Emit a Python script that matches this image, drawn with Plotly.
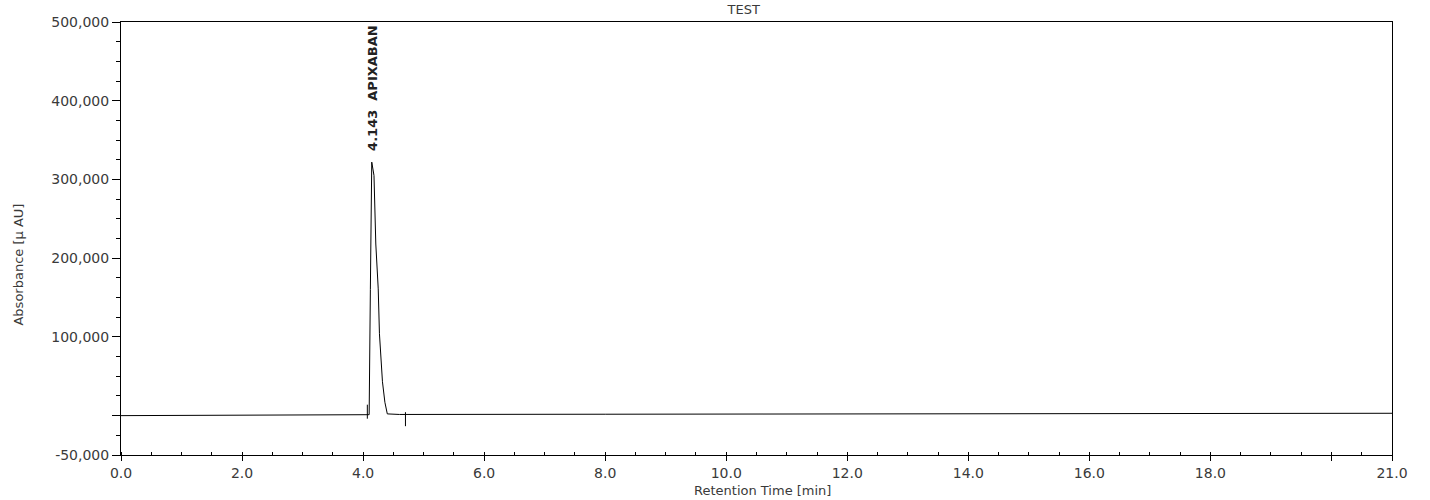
import plotly.graph_objects as go

# ---- data ----
retention_time = [0.0, 2.0, 4.00, 4.10, 4.12, 4.143, 4.18, 4.21, 4.25, 4.27,
                  4.32, 4.36, 4.40, 4.60, 8.0, 12.0, 16.0, 21.0]
absorbance = [0, 500, 1000, 1200, 160000, 322000, 305000, 218000, 161000, 104000,
              43000, 17000, 2200, 1500, 1800, 2200, 2600, 3000]

peak_time = 4.143
peak_height = 322000
peak_name = "APIXABAN"

# integration markers (peak start / peak end)
marker_times = [4.07, 4.70]
marker_values = [5000, -4500]

y_tick_vals = [-50000, 0, 100000, 200000, 300000, 400000, 500000]
y_tick_text = ["-50,000", "", "100,000", "200,000", "300,000", "400,000", "500,000"]
x_tick_vals = [0, 2, 4, 6, 8, 10, 12, 14, 16, 18, 20, 21]
x_tick_text = ["0.0", "2.0", "4.0", "6.0", "8.0", "10.0", "12.0", "14.0", "16.0", "18.0", "", "21.0"]

FONT = "DejaVu Sans"
TXT = "#3a3a3a"

fig = go.Figure()
fig.add_trace(go.Scatter(x=retention_time, y=absorbance, mode="lines",
                         line=dict(color="black", width=1), showlegend=False,
                         hoverinfo="x+y"))
fig.add_trace(go.Scatter(x=marker_times, y=marker_values, mode="markers",
                         marker=dict(symbol="line-ns", size=10,
                                     line=dict(color="black", width=1)),
                         showlegend=False, hoverinfo="skip"))

fig.add_annotation(x=peak_time, y=peak_height, xref="x", yref="y",
                   text=f"{peak_time:.3f}  {peak_name}", textangle=-90,
                   showarrow=False, xanchor="center", yanchor="bottom", yshift=9,
                   font=dict(family=FONT, size=13, color="#222", weight="bold"))

# axis titles
fig.add_annotation(text="Retention Time [min]", xref="paper", yref="paper",
                   x=0.505, y=-0.081, xanchor="center", yanchor="middle", showarrow=False,
                   font=dict(family=FONT, size=13, color=TXT))
fig.add_annotation(text="Absorbance [µ AU]", xref="paper", yref="paper",
                   x=-0.081, y=0.44, xanchor="center", yanchor="middle", textangle=-90,
                   showarrow=False, font=dict(family=FONT, size=13, color=TXT))

fig.update_layout(
    width=1430, height=500,
    margin=dict(l=121, r=38, t=22, b=45),
    paper_bgcolor="white", plot_bgcolor="white",
    title=dict(text="TEST", x=0.49, xref="paper", y=0.982, yref="container",
               xanchor="center", yanchor="middle",
               font=dict(family=FONT, size=13, color=TXT)),
    font=dict(family=FONT, size=14, color=TXT),
    showlegend=False,
)
fig.update_xaxes(range=[0, 21], tickvals=x_tick_vals, ticktext=x_tick_text,
                 showgrid=False, zeroline=False, showline=True, mirror=True,
                 linecolor="black", linewidth=1, ticks="outside", ticklen=5,
                 tickcolor="black", tickfont=dict(family=FONT, size=14, color=TXT),
                 minor=dict(dtick=0.5, tick0=0, ticks="inside", ticklen=3,
                            tickcolor="black", showgrid=False))
fig.update_yaxes(range=[-50000, 500000], tickvals=y_tick_vals, ticktext=y_tick_text,
                 showgrid=False, zeroline=False, showline=True, mirror=True,
                 linecolor="black", linewidth=1, ticks="outside", ticklen=8,
                 tickcolor="black", tickfont=dict(family=FONT, size=14, color=TXT),
                 minor=dict(dtick=25000, tick0=0, ticks="outside", ticklen=4,
                            tickcolor="black", showgrid=False))

fig.write_html("out.html")
